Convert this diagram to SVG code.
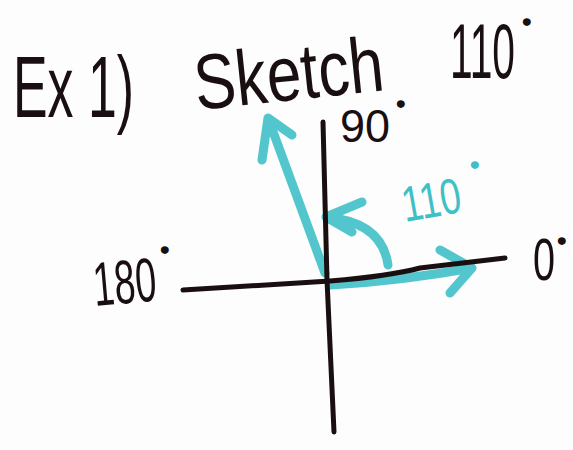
<svg xmlns="http://www.w3.org/2000/svg" width="573" height="450" viewBox="0 0 573 450">
<style>
.ink{font-family:"Liberation Sans","DejaVu Sans",sans-serif;fill:#1a0f10}
.dot{font-family:"Liberation Sans",sans-serif;fill:#1a0f10;stroke:#1a0f10;stroke-width:4;font-size:14px}
.teal{fill:none;stroke:#3fc0c6;stroke-width:9;stroke-linecap:round;stroke-linejoin:round;opacity:0.9}
.tealtxt{font-family:"Liberation Sans","DejaVu Sans",sans-serif;fill:#3fc0c6}
.tdot{font-family:"Liberation Sans",sans-serif;fill:#3fc0c6;stroke:#3fc0c6;stroke-width:4;font-size:14px}
.axis{fill:none;stroke:#1a0f10;stroke-width:5;stroke-linecap:round;stroke-linejoin:round}
</style>
<rect width="573" height="450" fill="#fefdfd"/>
<g id="title">
<text class="ink" x="13" y="117" font-size="88" textLength="121" lengthAdjust="spacingAndGlyphs">Ex 1)</text>
<text class="ink" x="197" y="110" font-size="78" textLength="190" lengthAdjust="spacingAndGlyphs" transform="rotate(-6 197 110)">Sketch</text>
<text class="ink" font-size="78" transform="translate(450 78) scale(0.523 1)">110</text>
<text class="dot" x="524" y="30">°</text>
</g>
<g id="connectors">
<path class="teal" d="M325,273 L268,118 M262,160 L268,118 L292,135"/>
<path class="teal" d="M330,285 Q400,281 472,268 M440,250 L472,268 L450,293"/>
<path class="teal" d="M388,265 Q382,222 326,217 M362,202 L326,217 L352,232"/>
<path class="axis" d="M183,290 L330,281 Q390,276 420,268 L505,258"/>
<path class="axis" d="M323,122 L327,280 L334,432"/>
</g>
<g id="label-90">
<text class="ink" x="340" y="142" font-size="46" textLength="50" lengthAdjust="spacingAndGlyphs">90</text>
<text class="dot" x="398" y="112">°</text>
</g>
<g id="label-180">
<text class="ink" font-size="62" transform="rotate(-5 95 306) translate(95 306) scale(0.61 1)">180</text>
<text class="dot" x="162" y="258">°</text>
</g>
<g id="label-0">
<text class="ink" font-size="60" transform="translate(533 280) scale(0.66 1)">0</text>
<text class="dot" x="559" y="249">°</text>
</g>
<g id="label-110">
<text class="tealtxt" font-size="50" transform="rotate(-10 405 222) translate(405 222) scale(0.745 1)">110</text>
<text class="tdot" x="472" y="173">°</text>
</g>
</svg>
